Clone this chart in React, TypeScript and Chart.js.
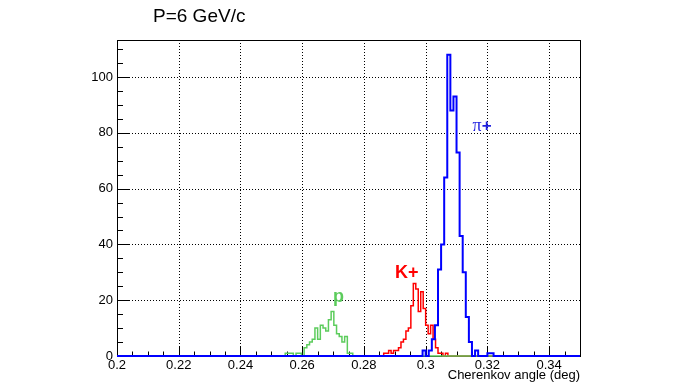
import React, { useEffect, useRef } from 'react';
import { Chart, registerables } from 'chart.js';

Chart.register(...registerables);

// ---------- axis data ----------
const xRange = [0.2, 0.35];
const yMax = 113.3;
const xTickValues = [0.2, 0.22, 0.24, 0.26, 0.28, 0.3, 0.32, 0.34];
const xTickLabels = ['0.2', '0.22', '0.24', '0.26', '0.28', '0.3', '0.32', '0.34'];
const xMinorStep = 0.005;
const yTickValues = [0, 20, 40, 60, 80, 100];
const yTickLabels = ['0', '20', '40', '60', '80', '100'];
const yMinorStep = 5;

// ---------- histogram data ----------
// pi+ (blue)
const piRange = [0.2, 0.35];
const piFirstBin = 0.299;
const piBinWidth = 0.001;
const piCounts = [2, 0, 2, 6, 11, 31, 40, 64, 108, 88, 93, 73, 43, 30, 14, 5, 0, 2, 0, 0, 0, 1, 1];

// K+ (red)
const kRange = [0.28, 0.344];
const kFirstBin = 0.2864;
const kBinWidth = 0.0008;
const kCounts = [1, 1, 2, 1, 2, 2, 3, 5, 6, 9, 10, 18, 26, 24, 16, 23, 17, 11, 8, 11, 6, 3, 1, 1, 0, 1];

// p (green)
const pRange = [0.2545, 0.342];
const pFirstBin = 0.2545;
const pBinWidth = 0.000875;
const pCounts = [1, 1, 1, 0, 1, 1, 0, 3, 4, 5, 6, 10, 6, 11, 10, 9, 13, 16, 11, 8, 7, 5, 7, 1, 1];

const titleText = 'P=6 GeV/c';
const xAxisTitle = 'Cherenkov angle (deg)';

const piColor = '#0000ff';
const kColor = '#ff0000';
const pColor = '#5ccc5c';

// label anchors in data space (left, baseline)
const labelDefs = [
  { parts: [{ t: 'π', f: '18px "Liberation Serif"' }, { t: '+', f: 'bold 17px "Liberation Sans"' }], x: 0.3152, y: 80.5, color: '#1f1fe0' },
  { parts: [{ t: 'K+', f: 'bold 18px "Liberation Sans"' }], x: 0.29005, y: 28, color: kColor },
  { parts: [{ t: 'p', f: 'bold 18px "Liberation Sans"' }], x: 0.27, y: 19.5, color: pColor },
];

function histPoints(range: number[], first: number, width: number, counts: number[]) {
  const pts: { x: number; y: number }[] = [{ x: range[0], y: 0 }, { x: first, y: 0 }];
  counts.forEach((c, i) => {
    const l = first + i * width;
    const r = l + width;
    pts.push({ x: l, y: c }, { x: r, y: c });
  });
  pts.push({ x: first + counts.length * width, y: 0 }, { x: range[1], y: 0 });
  return pts;
}

const rootPlugin = {
  id: 'rootStyle',
  beforeDatasetsDraw(chart: any) {
    const { ctx, chartArea: a, scales } = chart;
    const x = scales.x;
    const y = scales.y;
    ctx.save();
    // dotted grid
    ctx.strokeStyle = '#000';
    ctx.lineWidth = 1;
    ctx.setLineDash([1, 2]);
    xTickValues.forEach((v) => {
      if (v <= xRange[0]) return;
      const px = Math.round(x.getPixelForValue(v)) + 0.5;
      ctx.beginPath();
      ctx.moveTo(px, a.top);
      ctx.lineTo(px, a.bottom);
      ctx.stroke();
    });
    yTickValues.forEach((v) => {
      if (v <= 0) return;
      const py = Math.round(y.getPixelForValue(v)) + 0.5;
      ctx.beginPath();
      ctx.moveTo(a.left, py);
      ctx.lineTo(a.right, py);
      ctx.stroke();
    });
    ctx.setLineDash([]);
    // frame
    ctx.strokeStyle = '#000';
    ctx.strokeRect(Math.round(a.left) + 0.5, Math.round(a.top) + 0.5, Math.round(a.right - a.left), Math.round(a.bottom - a.top));
    // ticks
    ctx.beginPath();
    const nx = Math.round((xRange[1] - xRange[0]) / xMinorStep);
    for (let i = 0; i <= nx; i++) {
      const v = xRange[0] + i * xMinorStep;
      const major = xTickValues.some((t) => Math.abs(t - v) < 1e-9);
      const px = Math.round(x.getPixelForValue(v)) + 0.5;
      const len = major ? 9 : 4.5;
      ctx.moveTo(px, a.bottom);
      ctx.lineTo(px, a.bottom - len);
    }
    const ny = Math.floor(yMax / yMinorStep);
    for (let i = 0; i <= ny; i++) {
      const v = i * yMinorStep;
      const major = yTickValues.includes(v);
      const py = Math.round(y.getPixelForValue(v)) + 0.5;
      const len = major ? 12 : 6;
      ctx.moveTo(a.left, py);
      ctx.lineTo(a.left + len, py);
    }
    ctx.stroke();
    ctx.restore();
  },
  afterDatasetsDraw(chart: any) {
    const { ctx, chartArea: a, scales } = chart;
    const x = scales.x;
    const y = scales.y;
    ctx.save();
    ctx.textBaseline = 'alphabetic';
    labelDefs.forEach((d) => {
      let px = x.getPixelForValue(d.x);
      const py = y.getPixelForValue(d.y);
      ctx.fillStyle = d.color;
      d.parts.forEach((p) => {
        ctx.font = p.f;
        ctx.textAlign = 'left';
        ctx.fillText(p.t, px, py);
        px += ctx.measureText(p.t).width;
      });
    });
    ctx.fillStyle = '#000';
    ctx.font = '19px "Liberation Sans"';
    ctx.textAlign = 'left';
    ctx.fillText(titleText, a.left + 36, a.top - 18);
    ctx.font = '13px "Liberation Sans"';
    ctx.textAlign = 'right';
    ctx.fillText(xAxisTitle, a.right, a.bottom + 23);
    ctx.restore();
  },
};

export default function App() {
  const ref = useRef<HTMLCanvasElement | null>(null);
  useEffect(() => {
    if (!ref.current) return;
    const chart = new Chart(ref.current, {
      type: 'line',
      data: {
        datasets: [
          {
            data: histPoints(piRange, piFirstBin, piBinWidth, piCounts),
            borderColor: piColor,
            borderWidth: 2,
            pointRadius: 0,
            tension: 0,
            fill: false,
            clip: false as any,
          },
          {
            data: histPoints(pRange, pFirstBin, pBinWidth, pCounts),
            borderColor: pColor,
            borderWidth: 1.5,
            pointRadius: 0,
            tension: 0,
            fill: false,
            clip: false as any,
          },
          {
            data: histPoints(kRange, kFirstBin, kBinWidth, kCounts),
            borderColor: kColor,
            borderWidth: 1.5,
            pointRadius: 0,
            tension: 0,
            fill: false,
            clip: false as any,
          },
        ],
      },
      options: {
        animation: false,
        responsive: false,
        devicePixelRatio: 1,
        layout: { padding: { left: 0, top: 40, right: 116, bottom: 0 } },
        plugins: { legend: { display: false }, tooltip: { enabled: false }, title: { display: false } },
        events: [],
        scales: {
          x: {
            type: 'linear',
            min: xRange[0],
            max: xRange[1],
            grid: { display: false, drawTicks: false },
            border: { display: false },
            afterBuildTicks: (s: any) => {
              s.ticks = xTickValues.map((v) => ({ value: v }));
            },
            afterFit: (s: any) => {
              s.height = 29;
            },
            ticks: {
              autoSkip: false,
              maxRotation: 0,
              padding: 2,
              color: '#000',
              font: { family: 'Liberation Sans', size: 13 },
              callback: (v: any) => {
                const i = xTickValues.findIndex((t) => Math.abs(t - Number(v)) < 1e-9);
                return i >= 0 ? xTickLabels[i] : '';
              },
            },
          },
          y: {
            type: 'linear',
            min: 0,
            max: yMax,
            grid: { display: false, drawTicks: false },
            border: { display: false },
            afterBuildTicks: (s: any) => {
              s.ticks = yTickValues.map((v) => ({ value: v }));
            },
            afterFit: (s: any) => {
              s.width = 117;
            },
            ticks: {
              autoSkip: false,
              padding: 4,
              color: '#000',
              font: { family: 'Liberation Sans', size: 13 },
              callback: (v: any) => {
                const i = yTickValues.indexOf(Number(v));
                return i >= 0 ? yTickLabels[i] : '';
              },
            },
          },
        },
      } as any,
      plugins: [rootPlugin],
    });
    return () => chart.destroy();
  }, []);
  return (
    <div style={{ position: 'fixed', left: 0, top: 0, width: 696, height: 385, background: '#fff' }}>
      <canvas ref={ref} width={696} height={385} style={{ display: 'block' }} />
    </div>
  );
}
